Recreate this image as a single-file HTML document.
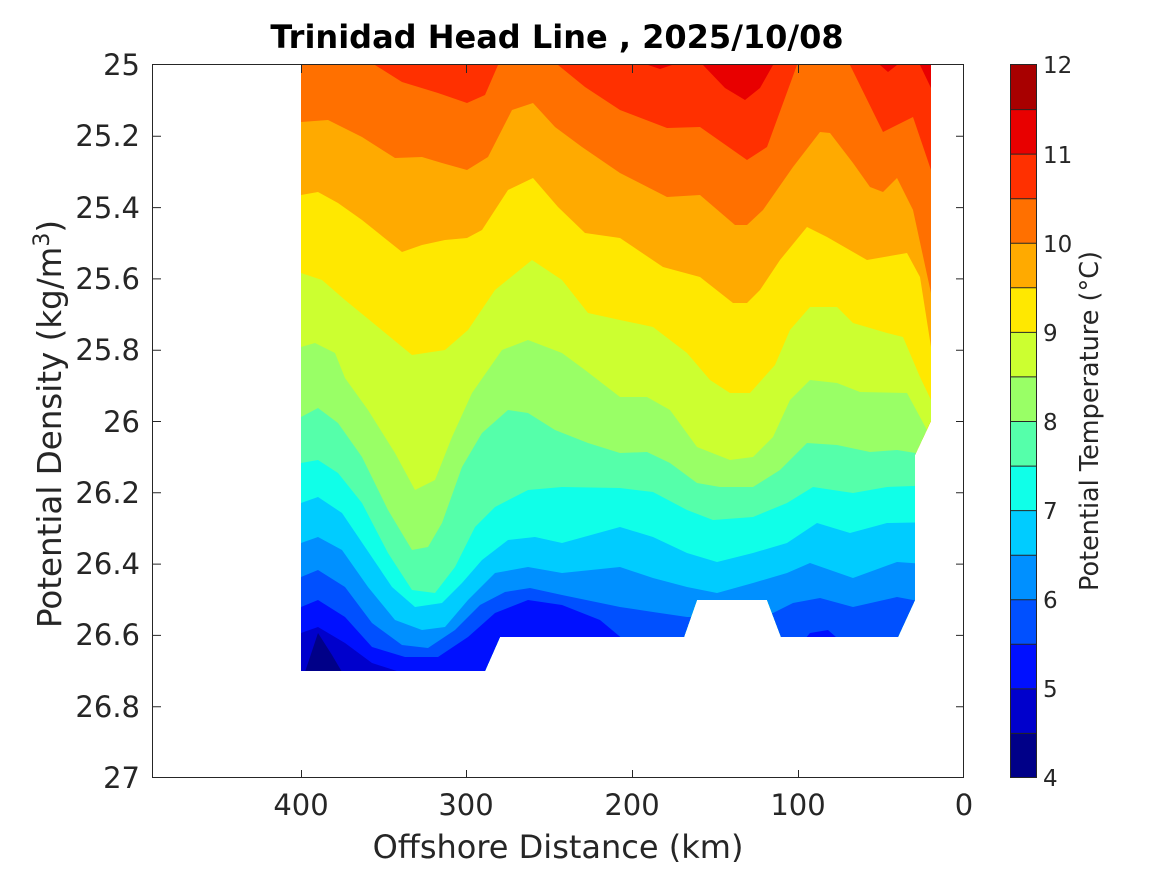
<!DOCTYPE html>
<html><head><meta charset="utf-8"><style>body{margin:0;background:#fff}svg{display:block}text{font-family:"DejaVu Sans","Liberation Sans",sans-serif;fill:#262626}</style></head><body>
<svg width="1167" height="875" viewBox="0 0 1167 875" xmlns="http://www.w3.org/2000/svg">
<defs><clipPath id="c"><path d="M301,65 L931,65 L931,421 L915,455 L915,600 L898,637 L781,637 L767,600 L697,600 L684,637 L500,637 L485,671 L301,671 Z"/></clipPath></defs>
<rect width="1167" height="875" fill="#fff"/>
<g clip-path="url(#c)">
<rect x="290" y="60" width="660" height="640" fill="#ff3000"/>
<path fill="#e80000" d="M703,65 L725,88 L745,100 L760,88 L773,65 Z M880,65 L888,72 L897,65 Z M920,65 L931,65 L931,88 Z M648,65 L660,69 L672,65 Z"/>
<path fill="#ff7000" d="M290,65 L375,65 L402,82 L438,93 L467,103 L485,95 L498,65 L558,65 L585,87 L620,110 L667,128 L700,127 L747,160 L767,147 L797,65 L850,65 L883,132 L913,117 L931,170 L940,700 L290,700 Z"/>
<path fill="#ffaa00" d="M290,122 L301,122 L328,120 L362,137 L395,158 L422,157 L442,163 L467,170 L488,157 L512,110 L533,103 L555,127 L582,147 L620,173 L667,197 L700,195 L735,225 L747,225 L763,210 L793,167 L820,132 L830,133 L853,163 L870,187 L883,192 L897,178 L913,210 L931,293 L940,700 L290,700 Z"/>
<path fill="#ffe800" d="M290,195 L301,195 L318,192 L338,203 L362,220 L402,252 L422,245 L445,240 L467,238 L482,230 L508,190 L533,178 L558,207 L585,233 L620,238 L663,267 L700,277 L733,303 L747,303 L760,290 L780,260 L807,227 L827,237 L867,260 L907,253 L920,277 L931,347 L940,700 L290,700 Z"/>
<path fill="#ccff30" d="M290,273 L301,273 L322,280 L345,300 L378,327 L412,355 L445,350 L468,330 L495,290 L532,260 L562,280 L588,313 L620,320 L653,327 L687,353 L710,380 L730,393 L750,393 L775,365 L790,330 L810,307 L837,307 L853,323 L887,333 L903,337 L920,377 L931,400 L940,700 L290,700 Z"/>
<path fill="#99ff66" d="M290,347 L301,347 L315,343 L335,353 L345,378 L368,410 L395,453 L415,490 L435,480 L452,437 L472,393 L495,360 L502,350 L528,340 L562,353 L585,370 L620,397 L647,397 L670,410 L697,447 L730,460 L753,457 L773,437 L790,400 L810,380 L837,383 L860,392 L907,393 L927,430 L940,700 L290,700 Z"/>
<path fill="#55ffaa" d="M290,417 L301,417 L318,408 L338,423 L362,457 L388,510 L412,550 L428,547 L442,523 L462,467 L482,433 L508,410 L528,413 L555,430 L588,443 L620,453 L647,452 L670,463 L697,483 L720,487 L753,487 L780,470 L807,443 L837,445 L870,452 L897,450 L940,457 L940,700 L290,700 Z"/>
<path fill="#10ffe8" d="M290,463 L301,463 L318,460 L338,473 L362,503 L388,553 L412,590 L435,593 L455,567 L475,527 L495,507 L528,490 L562,487 L620,488 L653,492 L687,510 L713,520 L753,517 L787,503 L813,487 L853,493 L887,487 L940,485 L940,700 L290,700 Z"/>
<path fill="#00ccff" d="M290,503 L301,503 L318,497 L342,513 L365,547 L392,587 L415,607 L442,603 L462,583 L482,560 L508,540 L535,537 L562,543 L620,527 L653,537 L687,553 L717,562 L753,553 L787,543 L817,523 L850,533 L887,523 L940,522 L940,700 L290,700 Z"/>
<path fill="#0090ff" d="M290,543 L301,543 L318,537 L342,550 L368,587 L395,620 L422,630 L445,627 L468,600 L495,573 L528,567 L562,573 L620,567 L653,578 L687,587 L717,593 L753,583 L787,573 L810,563 L853,578 L897,562 L940,565 L940,700 L290,700 Z"/>
<path fill="#0050ff" d="M290,577 L301,577 L318,570 L345,587 L372,623 L402,645 L428,648 L455,630 L480,605 L505,592 L530,588 L562,595 L620,607 L653,612 L687,617 L720,617 L773,613 L793,603 L820,598 L853,607 L897,597 L940,605 L940,700 L290,700 Z"/>
<path fill="#0010ff" d="M290,607 L301,607 L318,600 L345,617 L372,647 L405,657 L438,657 L468,637 L495,613 L528,600 L562,605 L600,620 L630,645 L800,645 L810,633 L828,630 L845,645 L940,645 L940,700 L290,700 Z"/>
<path fill="#0000cc" d="M290,633 L301,633 L318,627 L345,643 L372,663 L400,672 L420,700 L290,700 Z"/>
<path fill="#000088" d="M305,672 L318,633 L332,655 L342,672 Z"/>
</g>
<rect x="152.5" y="64.5" width="811" height="713" fill="none" stroke="#262626" stroke-width="1"/>
<g stroke="#262626" stroke-width="1">
<path d="M153,136.3h8M153,207.6h8M153,278.9h8M153,350.2h8M153,421.5h8M153,492.8h8M153,564.1h8M153,635.4h8M153,706.7h8"/>
<path d="M964,136.3h-8M964,207.6h-8M964,278.9h-8M964,350.2h-8M964,421.5h-8M964,492.8h-8M964,564.1h-8M964,635.4h-8M964,706.7h-8"/>
<path d="M301.5,778v-8M466.5,778v-8M632.5,778v-8M798.5,778v-8M301.5,65v8M466.5,65v8M632.5,65v8M798.5,65v8"/>
</g>
<g font-size="29" text-anchor="end">
<text x="140" y="75">25</text><text x="140" y="146">25.2</text><text x="140" y="218">25.4</text><text x="140" y="289">25.6</text><text x="140" y="360">25.8</text><text x="140" y="432">26</text><text x="140" y="503">26.2</text><text x="140" y="574">26.4</text><text x="140" y="645">26.6</text><text x="140" y="717">26.8</text><text x="140" y="788">27</text>
</g>
<g font-size="29" text-anchor="middle">
<text x="301" y="815">400</text><text x="466" y="815">300</text><text x="632" y="815">200</text><text x="798" y="815">100</text><text x="964" y="815">0</text>
</g>
<text x="558" y="858" font-size="32" text-anchor="middle">Offshore Distance (km)</text>
<text transform="translate(61,424) rotate(-90)" font-size="32.5" text-anchor="middle">Potential Density (kg/m<tspan font-size="22" dy="-12">3</tspan><tspan dy="12">)</tspan></text>
<text x="557" y="48" font-size="32" font-weight="bold" text-anchor="middle" style="fill:#000">Trinidad Head Line , 2025/10/08</text>
<g>
<rect x="1011" y="65" width="25" height="44.6" fill="#a80000"/>
<rect x="1011" y="109.6" width="25" height="44.6" fill="#e80000"/>
<rect x="1011" y="154.1" width="25" height="44.6" fill="#ff3000"/>
<rect x="1011" y="198.7" width="25" height="44.6" fill="#ff7000"/>
<rect x="1011" y="243.2" width="25" height="44.6" fill="#ffaa00"/>
<rect x="1011" y="287.8" width="25" height="44.6" fill="#ffe800"/>
<rect x="1011" y="332.4" width="25" height="44.6" fill="#ccff30"/>
<rect x="1011" y="376.9" width="25" height="44.6" fill="#99ff66"/>
<rect x="1011" y="421.5" width="25" height="44.6" fill="#55ffaa"/>
<rect x="1011" y="466.1" width="25" height="44.6" fill="#10ffe8"/>
<rect x="1011" y="510.6" width="25" height="44.6" fill="#00ccff"/>
<rect x="1011" y="555.2" width="25" height="44.6" fill="#0090ff"/>
<rect x="1011" y="599.7" width="25" height="44.6" fill="#0050ff"/>
<rect x="1011" y="644.3" width="25" height="44.6" fill="#0010ff"/>
<rect x="1011" y="688.9" width="25" height="44.6" fill="#0000cc"/>
<rect x="1011" y="733.4" width="25" height="44.6" fill="#000088"/>
<path stroke="#262626" stroke-width="1" d="M1011,109.6h25M1011,154.1h25M1011,198.7h25M1011,243.2h25M1011,287.8h25M1011,332.4h25M1011,376.9h25M1011,421.5h25M1011,466.1h25M1011,510.6h25M1011,555.2h25M1011,599.7h25M1011,644.3h25M1011,688.9h25M1011,733.4h25"/>
<rect x="1010.5" y="64.5" width="26" height="713" fill="none" stroke="#262626"/>
</g>
<g font-size="23">
<text x="1043" y="73">12</text><text x="1043" y="163">11</text><text x="1043" y="252">10</text><text x="1043" y="341">9</text><text x="1043" y="430">8</text><text x="1043" y="519">7</text><text x="1043" y="608">6</text><text x="1043" y="697">5</text><text x="1043" y="786">4</text>
</g>
<text transform="translate(1098,421) rotate(-90)" font-size="25.5" text-anchor="middle">Potential Temperature (°C)</text>
</svg>
</body></html>
